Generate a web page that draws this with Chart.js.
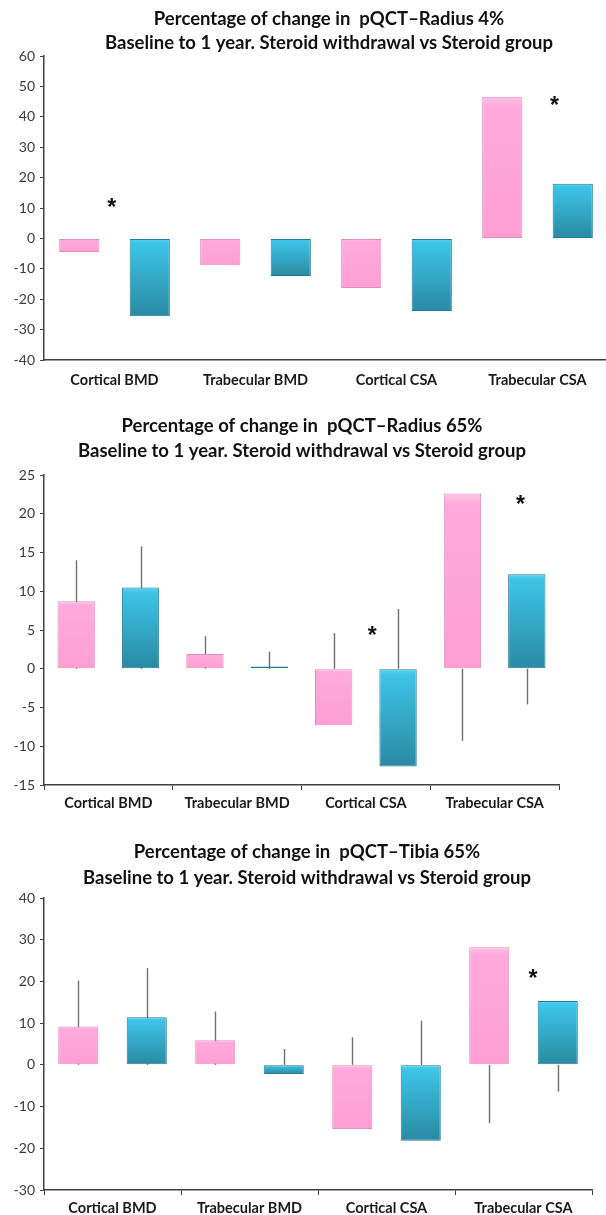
<!DOCTYPE html>
<html>
<head>
<meta charset="utf-8">
<script src="https://cdn.jsdelivr.net/npm/chart.js@4"></script>
<style>
    html, body { margin: 0; padding: 0; background: #fff; overflow: hidden; }
    body { width: 606px; height: 1215px; position: relative; }
    canvas { position: absolute; left: 0; }
</style>
</head>
<body>
<canvas id="radius4" width="658" height="400" style="top:0"></canvas>
<canvas id="radius65" width="604" height="420" style="top:400px"></canvas>
<canvas id="tibia65" width="614" height="395" style="top:820px"></canvas>
<script>
// Données
const categories = ['Cortical BMD', 'Trabecular BMD', 'Cortical CSA', 'Trabecular CSA'];
const seriesNames = ['Steroid withdrawal', 'Steroid group'];

// pQCT radius 4%
const r4Withdrawal = [-4.5, -8.8, -16.3, 46.6];
const r4Steroid = [-25.6, -12.4, -23.9, 18.0];
const r4Ticks = [-40, 60, 10];
// [catégorie, décalage, valeur]
const r4Stars = [[0, -0.02, 11.8], [3, 0.12, 45.4]];

// pQCT radius 65%
const r65Withdrawal = [8.7, 1.9, -7.3, 22.6];
const r65Steroid = [10.5, 0.3, -12.6, 12.2];
const r65WithdrawalErr = [14.0, 4.2, 4.6, -9.3];
const r65SteroidErr = [15.8, 2.2, 7.7, -4.6];
const r65Ticks = [-15, 25, 5];
const r65Stars = [[2, 0.05, 5.0], [3, 0.2, 21.9]];

// pQCT tibia 65%
const t65Withdrawal = [9.2, 5.9, -15.4, 28.2];
const t65Steroid = [11.4, -2.2, -18.2, 15.3];
const t65WithdrawalErr = [20.2, 12.8, 6.6, -14.0];
const t65SteroidErr = [23.2, 3.8, 10.6, -6.4];
const t65Ticks = [-30, 40, 10];
const t65Stars = [[3, 0.07, 21.8]];

const subtitle = 'Baseline to 1 year. Steroid withdrawal vs Steroid group';
const axisColor = '#404040';

// Dégradé vertical d'une barre (clair en haut, foncé en bas)
function barFill(stops) {
    return function (ctx) {
        const chart = ctx.chart;
        if (!chart.chartArea || ctx.type !== 'data') return stops[1][1];
        const y = chart.scales.y;
        const top = y.getPixelForValue(Math.max(ctx.raw, 0));
        const bottom = y.getPixelForValue(Math.min(ctx.raw, 0));
        if (bottom - top < 3) return stops[2][1];
        const g = chart.ctx.createLinearGradient(0, top, 0, bottom);
        stops.forEach(s => g.addColorStop(s[0], s[1]));
        return g;
    };
}
const pinkStops = [[0, '#FFC6E7'], [0.06, '#FFAADB'], [1, '#FF9ED3']];
const blueStops = [[0, '#5CD3F0'], [0.06, '#3DC4E8'], [1, '#2A8AA2']];

function makeChart(id, opts) {
    const marks = {
        id: 'marks' + id,
        // moustaches derrière les barres
        beforeDatasetsDraw(chart) {
            if (!opts.errors) return;
            const ctx = chart.ctx;
            const y = chart.scales.y;
            ctx.save();
            ctx.strokeStyle = '#6f6f6f';
            ctx.lineWidth = 1.4;
            opts.errors.forEach((errs, d) => {
                chart.getDatasetMeta(d).data.forEach((bar, i) => {
                    ctx.beginPath();
                    ctx.moveTo(Math.round(bar.x) + 0.5, y.getPixelForValue(0));
                    ctx.lineTo(Math.round(bar.x) + 0.5, y.getPixelForValue(errs[i]));
                    ctx.stroke();
                });
            });
            ctx.restore();
        },
        // astérisques de significativité
        afterDatasetsDraw(chart) {
            const ctx = chart.ctx;
            const x = chart.scales.x;
            const y = chart.scales.y;
            const catW = chart.chartArea.width / categories.length;
            ctx.save();
            ctx.font = 'bold 23px "Liberation Sans"';
            ctx.fillStyle = '#111';
            ctx.textAlign = 'center';
            ctx.textBaseline = 'alphabetic';
            const m = ctx.measureText('*');
            const shift = (m.actualBoundingBoxAscent - m.actualBoundingBoxDescent) / 2;
            opts.stars.forEach(s => {
                const px = x.getPixelForValue(s[0]) + s[1] * catW;
                ctx.fillText('*', px, y.getPixelForValue(s[2]) + shift);
            });
            ctx.restore();
        }
    };

    return new Chart(document.getElementById(id), {
        type: 'bar',
        data: {
            labels: categories,
            datasets: [
                {
                    label: seriesNames[0],
                    data: opts.series[0],
                    backgroundColor: barFill(pinkStops),
                    borderColor: '#E08DBE',
                    borderWidth: 1,
                    borderSkipped: false
                },
                {
                    label: seriesNames[1],
                    data: opts.series[1],
                    backgroundColor: barFill(blueStops),
                    borderColor: '#237C93',
                    borderWidth: 1,
                    borderSkipped: false
                }
            ]
        },
        options: {
            responsive: false,
            animation: false,
            categoryPercentage: 1,
            barPercentage: opts.barPct,
            layout: { padding: 0 },
            plugins: {
                legend: { display: false },
                tooltip: { enabled: false },
                title: {
                    display: true,
                    text: [opts.title, subtitle],
                    color: '#111',
                    font: { family: 'Lato', size: 18.5, weight: 'bold', lineHeight: opts.titleLine + 'px' },
                    padding: { top: opts.titlePad[0], bottom: opts.titlePad[1] }
                }
            },
            scales: {
                x: {
                    grid: {
                        drawOnChartArea: false,
                        tickLength: 5,
                        color: axisColor,
                        tickColor: opts.xTicks ? axisColor : 'rgba(0,0,0,0)'
                    },
                    border: { color: axisColor, width: 1.5 },
                    ticks: {
                        color: '#1a1a1a',
                        font: { family: 'Lato', size: 14.5, weight: 'bold' },
                        padding: opts.labelPad,
                        maxRotation: 0,
                        autoSkip: false
                    },
                    afterFit: s => { s.height = opts.xHeight; }
                },
                y: {
                    min: opts.ticks[0],
                    max: opts.ticks[1],
                    grid: { drawOnChartArea: false, tickLength: 4, color: axisColor },
                    border: { color: axisColor, width: 1.5 },
                    ticks: {
                        stepSize: opts.ticks[2],
                        color: '#3a3a3a',
                        font: { family: 'Lato', size: 14 },
                        padding: 5
                    },
                    afterFit: s => { s.width = 44; }
                },
                // marge droite qui ne décale pas le titre
                pad: {
                    position: 'right',
                    grid: { display: false },
                    border: { display: false },
                    ticks: { display: false },
                    afterFit: s => { s.width = opts.padRight; }
                }
            }
        },
        plugins: [marks]
    });
}

makeChart('radius4', {
    title: 'Percentage of change in  pQCT\u2013Radius 4%',
    series: [r4Withdrawal, r4Steroid],
    ticks: r4Ticks,
    stars: r4Stars,
    barPct: 0.57,
    titleLine: 24,
    titlePad: [7, 1],
    xHeight: 40,
    labelPad: 6.5,
    xTicks: false,
    padRight: 50
});

makeChart('radius65', {
    title: 'Percentage of change in  pQCT\u2013Radius 65%',
    series: [r65Withdrawal, r65Steroid],
    errors: [r65WithdrawalErr, r65SteroidErr],
    ticks: r65Ticks,
    stars: r65Stars,
    barPct: 0.58,
    titleLine: 25,
    titlePad: [14, 11],
    xHeight: 35,
    labelPad: 4.5,
    xTicks: true,
    padRight: 45
});

makeChart('tibia65', {
    title: 'Percentage of change in  pQCT\u2013Tibia 65%',
    series: [t65Withdrawal, t65Steroid],
    errors: [t65WithdrawalErr, t65SteroidErr],
    ticks: t65Ticks,
    stars: t65Stars,
    barPct: 0.585,
    titleLine: 26,
    titlePad: [19, 7],
    xHeight: 25,
    labelPad: 4.5,
    xTicks: true,
    padRight: 22
});
</script>
</body>
</html>
